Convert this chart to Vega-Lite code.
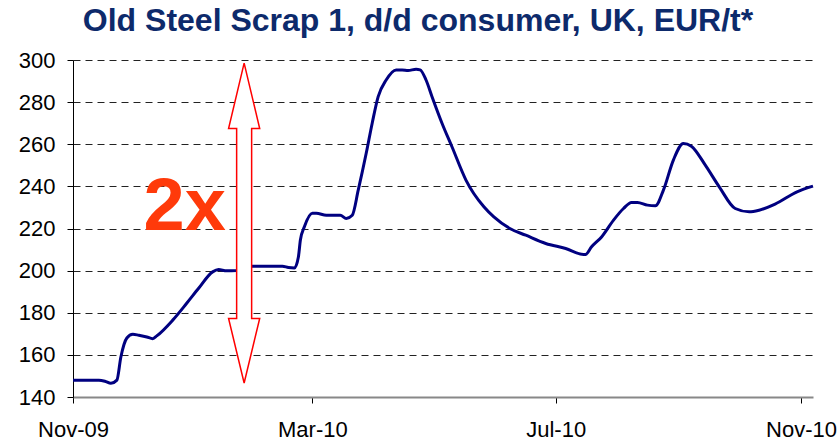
{
  "$schema": "https://vega.github.io/schema/vega-lite/v6.json",
  "autosize": "none",
  "width": 740,
  "height": 337,
  "padding": {"left": 73, "top": 60, "right": 26, "bottom": 44},
  "background": "white",
  "config": {
    "view": {"stroke": null},
    "font": "Liberation Sans"
  },
  "title": {
    "text": "Old Steel Scrap 1, d/d consumer, UK, EUR/t*",
    "font": "Liberation Sans",
    "fontSize": 32,
    "fontWeight": "bold",
    "color": "#0D2A6B",
    "anchor": "middle",
    "dx": -25,
    "offset": 11
  },
  "datasets": {
    "price": [
      {"date": "2009-11-01", "value": 148},
      {"date": "2009-11-14", "value": 148},
      {"date": "2009-11-17", "value": 147.5},
      {"date": "2009-11-20", "value": 146.5},
      {"date": "2009-11-23", "value": 148},
      {"date": "2009-11-25", "value": 159},
      {"date": "2009-11-28", "value": 168},
      {"date": "2009-12-01", "value": 169.8},
      {"date": "2009-12-04", "value": 169.3},
      {"date": "2009-12-08", "value": 168.5},
      {"date": "2009-12-11", "value": 167.7},
      {"date": "2009-12-13", "value": 169},
      {"date": "2009-12-21", "value": 176.5},
      {"date": "2009-12-28", "value": 184.5},
      {"date": "2010-01-03", "value": 191.6},
      {"date": "2010-01-10", "value": 199.4},
      {"date": "2010-01-13", "value": 200.5},
      {"date": "2010-01-17", "value": 199.9},
      {"date": "2010-01-22", "value": 200},
      {"date": "2010-01-30", "value": 202.1},
      {"date": "2010-02-14", "value": 202.1},
      {"date": "2010-02-17", "value": 201.5},
      {"date": "2010-02-20", "value": 201.3},
      {"date": "2010-02-22", "value": 206.5},
      {"date": "2010-02-23", "value": 214.5},
      {"date": "2010-02-25", "value": 220.8},
      {"date": "2010-03-01", "value": 227.2},
      {"date": "2010-03-03", "value": 227.2},
      {"date": "2010-03-08", "value": 226.3},
      {"date": "2010-03-15", "value": 226.3},
      {"date": "2010-03-18", "value": 224.8},
      {"date": "2010-03-21", "value": 226.3},
      {"date": "2010-03-24", "value": 238.2},
      {"date": "2010-03-28", "value": 255.7},
      {"date": "2010-03-31", "value": 270},
      {"date": "2010-04-03", "value": 282.6},
      {"date": "2010-04-07", "value": 290.5},
      {"date": "2010-04-12", "value": 295.3},
      {"date": "2010-04-15", "value": 295.3},
      {"date": "2010-04-18", "value": 295},
      {"date": "2010-04-22", "value": 295.6},
      {"date": "2010-04-24", "value": 295.3},
      {"date": "2010-04-27", "value": 290.5},
      {"date": "2010-04-30", "value": 282.6},
      {"date": "2010-05-05", "value": 270},
      {"date": "2010-05-10", "value": 258.8},
      {"date": "2010-05-17", "value": 243},
      {"date": "2010-05-26", "value": 230.3},
      {"date": "2010-05-31", "value": 225.5},
      {"date": "2010-06-08", "value": 220},
      {"date": "2010-06-16", "value": 216.8},
      {"date": "2010-06-26", "value": 212.9},
      {"date": "2010-07-06", "value": 210.5},
      {"date": "2010-07-15", "value": 207.7},
      {"date": "2010-07-16", "value": 207.7},
      {"date": "2010-07-19", "value": 211.3},
      {"date": "2010-07-24", "value": 216},
      {"date": "2010-07-30", "value": 224},
      {"date": "2010-08-04", "value": 229.5},
      {"date": "2010-08-08", "value": 232.4},
      {"date": "2010-08-11", "value": 232.4},
      {"date": "2010-08-16", "value": 231.1},
      {"date": "2010-08-20", "value": 230.8},
      {"date": "2010-08-24", "value": 238.2},
      {"date": "2010-08-29", "value": 252.5},
      {"date": "2010-09-03", "value": 260.4},
      {"date": "2010-09-07", "value": 259.1},
      {"date": "2010-09-14", "value": 250.1},
      {"date": "2010-09-21", "value": 239.8},
      {"date": "2010-09-29", "value": 229.5},
      {"date": "2010-10-06", "value": 227.9},
      {"date": "2010-10-11", "value": 228.7},
      {"date": "2010-10-19", "value": 231.6},
      {"date": "2010-10-30", "value": 237.4},
      {"date": "2010-11-07", "value": 240.1}
    ],
    "arrow": [
      {"i": 1, "date": "2010-01-25T19:12:00Z", "value": 298.5},
      {"i": 2, "date": "2010-02-02T14:24:00Z", "value": 267.5},
      {"i": 3, "date": "2010-01-29T13:26:00Z", "value": 267.5},
      {"i": 4, "date": "2010-01-29T13:26:00Z", "value": 177.3},
      {"i": 5, "date": "2010-02-02T14:24:00Z", "value": 177.3},
      {"i": 6, "date": "2010-01-25T19:12:00Z", "value": 146.65},
      {"i": 7, "date": "2010-01-18T00:00:00Z", "value": 177.3},
      {"i": 8, "date": "2010-01-22T01:00:00Z", "value": 177.3},
      {"i": 9, "date": "2010-01-22T01:00:00Z", "value": 267.5},
      {"i": 10, "date": "2010-01-18T00:00:00Z", "value": 267.5},
      {"i": 11, "date": "2010-01-25T19:12:00Z", "value": 298.5}
    ],
    "label": [
      {"date": "2009-12-27T00:00:00Z", "value": 219.2, "text": "2x"}
    ]
  },
  "encoding": {
    "x": {
      "field": "date",
      "type": "temporal",
      "scale": {
        "type": "utc",
        "domain": [
          {"year": 2009, "month": "nov", "date": 1, "utc": true},
          {"year": 2010, "month": "nov", "date": 7, "utc": true}
        ]
      },
      "axis": {
        "title": null,
        "values": [
          {"year": 2009, "month": "nov", "date": 1, "utc": true},
          {"year": 2010, "month": "mar", "date": 1, "utc": true},
          {"year": 2010, "month": "jul", "date": 1, "utc": true},
          {"year": 2010, "month": "nov", "date": 1, "utc": true}
        ],
        "format": "%b-%y",
        "grid": false,
        "domainColor": "#888888",
        "domainWidth": 2,
        "tickColor": "#000000",
        "tickSize": 6,
        "labelFont": "Liberation Sans",
        "labelFontSize": 22,
        "labelColor": "#000000",
        "labelPadding": 16,
        "labelOverlap": false,
        "labelFlush": false
      }
    },
    "y": {
      "field": "value",
      "type": "quantitative",
      "scale": {"domain": [140, 300], "nice": false, "zero": false},
      "axis": {
        "title": null,
        "values": [140, 160, 180, 200, 220, 240, 260, 280, 300],
        "grid": true,
        "gridColor": "#222222",
        "gridDash": [7, 5],
        "gridWidth": 1,
        "domainColor": "#000000",
        "tickColor": "#000000",
        "tickSize": 6,
        "labelFont": "Liberation Sans",
        "labelFontSize": 22,
        "labelColor": "#000000",
        "labelPadding": 12
      }
    }
  },
  "layer": [
    {
      "data": {"name": "price"},
      "mark": {"type": "line", "color": "#000080", "strokeWidth": 3, "interpolate": "monotone"}
    },
    {
      "data": {"name": "arrow"},
      "mark": {"type": "line", "stroke": "#FF0000", "fill": "#FFFFFF", "strokeWidth": 1.5},
      "encoding": {"order": {"field": "i", "type": "quantitative"}}
    },
    {
      "data": {"name": "label"},
      "mark": {"type": "text", "font": "Liberation Sans", "fontSize": 74, "fontWeight": "bold", "color": "#FF3A0A", "align": "center", "baseline": "alphabetic"},
      "encoding": {"text": {"field": "text", "type": "nominal"}}
    }
  ]
}
